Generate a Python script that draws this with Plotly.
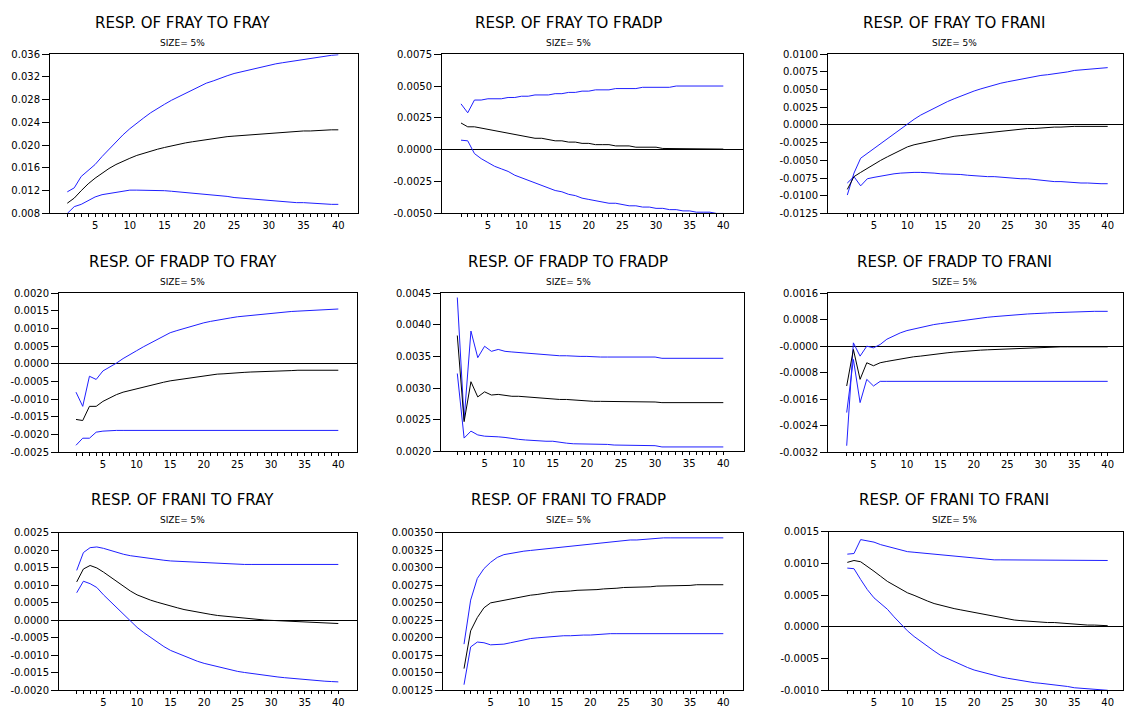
import plotly.graph_objects as go

periods = list(range(1, 41))

titles = [
    "RESP. OF FRAY TO FRAY", "RESP. OF FRAY TO FRADP", "RESP. OF FRAY TO FRANI",
    "RESP. OF FRADP TO FRAY", "RESP. OF FRADP TO FRADP", "RESP. OF FRADP TO FRANI",
    "RESP. OF FRANI TO FRAY", "RESP. OF FRANI TO FRADP", "RESP. OF FRANI TO FRANI",
]
subtitle = "SIZE= 5%"

ytick_labels = [
    ["0.008", "0.012", "0.016", "0.020", "0.024", "0.028", "0.032", "0.036"],
    ["-0.0050", "-0.0025", "0.0000", "0.0025", "0.0050", "0.0075"],
    ["-0.0125", "-0.0100", "-0.0075", "-0.0050", "-0.0025", "0.0000", "0.0025", "0.0050", "0.0075", "0.0100"],
    ["-0.0025", "-0.0020", "-0.0015", "-0.0010", "-0.0005", "0.0000", "0.0005", "0.0010", "0.0015", "0.0020"],
    ["0.0020", "0.0025", "0.0030", "0.0035", "0.0040", "0.0045"],
    ["-0.0032", "-0.0024", "-0.0016", "-0.0008", "-0.0000", "0.0008", "0.0016"],
    ["-0.0020", "-0.0015", "-0.0010", "-0.0005", "0.0000", "0.0005", "0.0010", "0.0015", "0.0020", "0.0025"],
    ["0.00125", "0.00150", "0.00175", "0.00200", "0.00225", "0.00250", "0.00275", "0.00300", "0.00325", "0.00350"],
    ["-0.0010", "-0.0005", "0.0000", "0.0005", "0.0010", "0.0015"],
]
xtick_labels = [str(p) if p % 5 == 0 else "" for p in periods]

# ---- FRAY to FRAY
fray_fray = [0.0098, 0.0107, 0.0120, 0.0132, 0.0142, 0.0151, 0.0159, 0.0166, 0.0172, 0.0177,
             0.0182, 0.0186, 0.0190, 0.0193, 0.0196, 0.0199, 0.0202, 0.0204, 0.0206, 0.0208,
             0.0210, 0.0212, 0.0213, 0.0215, 0.0216, 0.0217, 0.0218, 0.0219, 0.0220, 0.0221,
             0.0222, 0.0223, 0.0223, 0.0224, 0.0225, 0.0225, 0.0226, 0.0226, 0.0227, 0.0227]
fray_fray_hi = [0.0118, 0.0125, 0.0145, 0.0155, 0.0166, 0.0180, 0.0193, 0.0206, 0.0218, 0.0229,
                0.0239, 0.0248, 0.0257, 0.0265, 0.0272, 0.0279, 0.0285, 0.0291, 0.0298, 0.0304,
                0.0309, 0.0313, 0.0318, 0.0322, 0.0326, 0.0329, 0.0332, 0.0335, 0.0338, 0.0341,
                0.0343, 0.0345, 0.0347, 0.0349, 0.0351, 0.0353, 0.0355, 0.0356, 0.0358, 0.0359]
fray_fray_lo = [0.0080, 0.0092, 0.0096, 0.0103, 0.0109, 0.0113, 0.0115, 0.0118, 0.0119, 0.0121,
                0.0121, 0.0121, 0.0121, 0.0121, 0.0120, 0.0119, 0.0118, 0.0117, 0.0116, 0.0115,
                0.0114, 0.0112, 0.0111, 0.0110, 0.0108, 0.0107, 0.0106, 0.0105, 0.0103, 0.0102,
                0.0101, 0.0100, 0.0100, 0.0099, 0.0099, 0.0098, 0.0097, 0.0097, 0.0096, 0.0096]

# ---- FRAY to FRADP
fray_fradp = [0.0021, 0.0018, 0.0018, 0.0017, 0.0016, 0.0015, 0.0014, 0.0013, 0.0012, 0.0011,
              0.0010, 0.0009, 0.0009, 0.0008, 0.0007, 0.0007, 0.0006, 0.0006, 0.0005, 0.0005,
              0.0004, 0.0004, 0.0004, 0.0003, 0.0003, 0.0003, 0.0002, 0.0002, 0.0002, 0.0002,
              0.0001, 0.0001, 0.0001, 0.0001, 0.0001, 0.0001, 0.0001, 0.00005, 0.00005, 0.00005]
fray_fradp_hi = [0.0036, 0.0029, 0.0039, 0.0039, 0.0040, 0.0040, 0.0040, 0.0041, 0.0041, 0.0042,
                 0.0042, 0.0043, 0.0043, 0.0043, 0.0044, 0.0044, 0.0045, 0.0045, 0.0046, 0.0046,
                 0.0047, 0.0047, 0.0047, 0.0048, 0.0048, 0.0048, 0.0048, 0.0049, 0.0049, 0.0049,
                 0.0049, 0.0049, 0.0050, 0.0050, 0.0050, 0.0050, 0.0050, 0.0050, 0.0050, 0.0050]
fray_fradp_lo = [0.00075, 0.0007, -0.0003, -0.0007, -0.0010, -0.0013, -0.0015, -0.0017, -0.0020, -0.0022,
                 -0.0024, -0.0026, -0.0028, -0.0030, -0.0032, -0.0033, -0.0035, -0.0036, -0.0038, -0.0039,
                 -0.0040, -0.0041, -0.0042, -0.0042, -0.0043, -0.0044, -0.0044, -0.0045, -0.0045, -0.0046,
                 -0.0046, -0.0047, -0.0047, -0.0048, -0.0048, -0.0049, -0.0049, -0.0049, -0.0050, -0.0050]

# ---- FRAY to FRANI
fray_frani = [-0.0091, -0.0073, -0.0067, -0.0061, -0.0056, -0.0050, -0.0045, -0.0040, -0.0035, -0.0031,
              -0.0028, -0.0026, -0.0023, -0.0021, -0.0019, -0.0018, -0.0016, -0.0015, -0.0014, -0.0013,
              -0.0012, -0.0011, -0.0010, -0.0008, -0.0007, -0.0006, -0.0006, -0.0005, -0.0005, -0.0004,
              -0.0004, -0.0003, -0.0003, -0.0002, -0.0002, -0.0002, -0.0002, -0.0002, -0.0002, -0.0002]
fray_frani_hi = [-0.0099, -0.0068, -0.0047, -0.0040, -0.0033, -0.0026, -0.0019, -0.0012, -0.0005, 0.0002,
                 0.0008, 0.0014, 0.0019, 0.0024, 0.0029, 0.0033, 0.0037, 0.0041, 0.0045, 0.0048,
                 0.0051, 0.0054, 0.0056, 0.0059, 0.0061, 0.0063, 0.0065, 0.0067, 0.0068, 0.0070,
                 0.0071, 0.0072, 0.0074, 0.0075, 0.0077, 0.0078, 0.0079, 0.0079, 0.0080, 0.0081]
fray_frani_lo = [-0.0082, -0.0073, -0.0086, -0.0076, -0.0074, -0.0072, -0.0070, -0.0069, -0.0068, -0.0067,
                 -0.0067, -0.0067, -0.0067, -0.0068, -0.0069, -0.0069, -0.0070, -0.0070, -0.0071, -0.0072,
                 -0.0072, -0.0073, -0.0073, -0.0074, -0.0075, -0.0075, -0.0076, -0.0076, -0.0077, -0.0079,
                 -0.0079, -0.0080, -0.0080, -0.0081, -0.0081, -0.0082, -0.0082, -0.0083, -0.0083, -0.0083]

# ---- FRADP to FRAY
fradp_fray = [-0.00157, -0.0016, -0.0012, -0.0012, -0.00106, -0.00096, -0.00087, -0.0008, -0.00075, -0.0007,
              -0.00065, -0.0006, -0.00056, -0.00052, -0.00048, -0.00045, -0.00042, -0.00039, -0.00036, -0.00033,
              -0.00031, -0.00029, -0.00028, -0.00026, -0.00025, -0.00024, -0.00023, -0.00022, -0.00021, -0.0002,
              -0.0002, -0.00019, -0.00019, -0.00018, -0.00018, -0.00018, -0.00018, -0.00018, -0.00018, -0.00018]
fradp_fray_hi = [-0.0008, -0.0012, -0.00035, -0.00044, -0.0002, -0.0001, 0.00002, 0.00015, 0.00025, 0.00037,
                 0.00048, 0.00058, 0.00068, 0.00078, 0.00088, 0.00094, 0.001, 0.00106, 0.00111, 0.00116,
                 0.0012, 0.00124, 0.00127, 0.0013, 0.00133, 0.00135, 0.00138, 0.0014, 0.00142, 0.00144,
                 0.00145, 0.00146, 0.00148, 0.00149, 0.0015, 0.00151, 0.00152, 0.00153, 0.00154, 0.00155]
fradp_fray_lo = [-0.0023, -0.0021, -0.0021, -0.00193, -0.0019, -0.00188, -0.00188, -0.00188, -0.00188, -0.00188,
                 -0.00188, -0.00188, -0.00188, -0.00188, -0.00188, -0.00188, -0.00188, -0.00188, -0.00188, -0.00188,
                 -0.00188, -0.00188, -0.00188, -0.00188, -0.00188, -0.00188, -0.00188, -0.00188, -0.00188, -0.00188,
                 -0.00188, -0.00188, -0.00188, -0.00188, -0.00188, -0.00188, -0.00188, -0.00188, -0.00188, -0.00188]

# ---- FRADP to FRADP
fradp_fradp = [0.00383, 0.00247, 0.00310, 0.00286, 0.00294, 0.00289, 0.00290, 0.00288, 0.00287, 0.00287,
               0.00286, 0.00285, 0.00284, 0.00283, 0.00283, 0.00282, 0.00282, 0.00281, 0.00281, 0.00280,
               0.00279, 0.00279, 0.00279, 0.00279, 0.00278, 0.00278, 0.00278, 0.00278, 0.00278, 0.00278,
               0.00277, 0.00277, 0.00277, 0.00277, 0.00277, 0.00277, 0.00277, 0.00277, 0.00277, 0.00277]
fradp_fradp_hi = [0.00443, 0.00250, 0.00390, 0.00348, 0.00366, 0.00358, 0.00361, 0.00358, 0.00357, 0.00356,
                  0.00355, 0.00354, 0.00353, 0.00352, 0.00352, 0.00351, 0.00351, 0.00350, 0.00350, 0.00350,
                  0.00349, 0.00349, 0.00349, 0.00349, 0.00349, 0.00349, 0.00349, 0.00349, 0.00349, 0.00349,
                  0.00347, 0.00347, 0.00347, 0.00347, 0.00347, 0.00347, 0.00347, 0.00347, 0.00347, 0.00347]
fradp_fradp_lo = [0.00323, 0.00221, 0.00232, 0.00226, 0.00224, 0.00224, 0.00223, 0.00222, 0.00220, 0.00219,
                  0.00218, 0.00217, 0.00216, 0.00216, 0.00216, 0.00214, 0.00213, 0.00212, 0.00212, 0.00212,
                  0.00211, 0.00211, 0.00211, 0.00210, 0.00210, 0.00210, 0.00210, 0.00209, 0.00209, 0.00209,
                  0.00207, 0.00207, 0.00207, 0.00207, 0.00207, 0.00207, 0.00207, 0.00207, 0.00207, 0.00207]

# ---- FRADP to FRANI
fradp_frani = [-0.0012, -0.0001, -0.0010, -0.0005, -0.00059, -0.0005, -0.00046, -0.00042, -0.00038, -0.00035,
               -0.00032, -0.0003, -0.00027, -0.00025, -0.00022, -0.0002, -0.00018, -0.00016, -0.00015, -0.00013,
               -0.00012, -0.00011, -0.0001, -0.00009, -0.00008, -0.00007, -0.00006, -0.00005, -0.00004, -0.00003,
               -0.00002, -0.00002, -0.00002, -0.00002, -0.00002, -0.00002, -0.00002, -0.00002, -0.00002, -0.00002]
fradp_frani_hi = [-0.0030, 0.0001, -0.0003, 0.0000, -0.00005, 0.00005, 0.00021, 0.00031, 0.0004, 0.00047,
                  0.00052, 0.00057, 0.00061, 0.00065, 0.00068, 0.00071, 0.00074, 0.00077, 0.0008, 0.00083,
                  0.00085, 0.00087, 0.00089, 0.00091, 0.00093, 0.00094, 0.00095, 0.00097, 0.00098, 0.001,
                  0.001, 0.00101, 0.00102, 0.00103, 0.00104, 0.00105, 0.00105, 0.00105, 0.00105, 0.00105]
fradp_frani_lo = [-0.0020, -0.0004, -0.0017, -0.0010, -0.0012, -0.00106, -0.00106, -0.00106, -0.00106, -0.00106,
                  -0.00106, -0.00106, -0.00106, -0.00106, -0.00106, -0.00106, -0.00106, -0.00106, -0.00106, -0.00106,
                  -0.00106, -0.00106, -0.00106, -0.00106, -0.00106, -0.00106, -0.00106, -0.00106, -0.00106, -0.00106,
                  -0.00106, -0.00106, -0.00106, -0.00106, -0.00106, -0.00106, -0.00106, -0.00106, -0.00106, -0.00106]

# ---- FRANI to FRAY
frani_fray = [0.0011, 0.00147, 0.00157, 0.0015, 0.00138, 0.00124, 0.0011, 0.00096, 0.00084, 0.00073,
              0.00065, 0.00058, 0.00052, 0.00046, 0.0004, 0.00036, 0.00031, 0.00027, 0.00023, 0.00019,
              0.00017, 0.00014, 0.00012, 0.00009, 0.00007, 0.00005, 0.00004, 0.00003, 0.00001, 0.0,
              -0.00001, -0.00002, -0.00003, -0.00004, -0.00004, -0.00005, -0.00007, -0.00008, -0.00009, -0.00009]
frani_fray_hi = [0.00143, 0.00194, 0.00208, 0.0021, 0.00206, 0.002, 0.00194, 0.00189, 0.00185, 0.00182,
                 0.00179, 0.00177, 0.00174, 0.00172, 0.0017, 0.00169, 0.00167, 0.00166, 0.00165, 0.00164,
                 0.00163, 0.00163, 0.00162, 0.00162, 0.00161, 0.0016, 0.0016, 0.0016, 0.0016, 0.0016,
                 0.0016, 0.0016, 0.0016, 0.0016, 0.0016, 0.0016, 0.0016, 0.0016, 0.0016, 0.0016]
frani_fray_lo = [0.00079, 0.00112, 0.00105, 0.00094, 0.00073, 0.00054, 0.00035, 0.00017, -0.00002, -0.0002,
                 -0.00035, -0.00049, -0.00062, -0.00075, -0.00086, -0.00094, -0.00102, -0.0011, -0.00117, -0.00123,
                 -0.00128, -0.00133, -0.00138, -0.00142, -0.00146, -0.00149, -0.00152, -0.00155, -0.00158, -0.0016,
                 -0.00162, -0.00164, -0.00166, -0.00168, -0.0017, -0.00171, -0.00173, -0.00174, -0.00175, -0.00176]

# ---- FRANI to FRADP
frani_fradp = [0.00156, 0.0021, 0.00229, 0.00243, 0.0025, 0.00252, 0.00254, 0.00256, 0.00258, 0.0026,
               0.00261, 0.00262, 0.00264, 0.00265, 0.00266, 0.00266, 0.00267, 0.00268, 0.00268, 0.00269,
               0.00269, 0.0027, 0.0027, 0.00271, 0.00272, 0.00272, 0.00272, 0.00273, 0.00273, 0.00274,
               0.00274, 0.00274, 0.00275, 0.00275, 0.00275, 0.00276, 0.00276, 0.00276, 0.00276, 0.00276]
frani_fradp_hi = [0.00191, 0.00254, 0.00285, 0.00299, 0.00308, 0.00315, 0.00319, 0.00321, 0.00322, 0.00324,
                  0.00325, 0.00326, 0.00327, 0.00329, 0.0033, 0.00331, 0.00332, 0.00333, 0.00334, 0.00335,
                  0.00336, 0.00337, 0.00337, 0.00338, 0.00339, 0.0034, 0.0034, 0.00341, 0.00341, 0.00342,
                  0.00343, 0.00343, 0.00343, 0.00343, 0.00343, 0.00343, 0.00343, 0.00343, 0.00343, 0.00343]
frani_fradp_lo = [0.00133, 0.00187, 0.00194, 0.00193, 0.0019, 0.0019, 0.00191, 0.00193, 0.00195, 0.00198,
                  0.00199, 0.002, 0.00201, 0.00202, 0.00202, 0.00203, 0.00203, 0.00204, 0.00204, 0.00204,
                  0.00205, 0.00205, 0.00206, 0.00206, 0.00206, 0.00206, 0.00206, 0.00206, 0.00206, 0.00206,
                  0.00206, 0.00206, 0.00206, 0.00206, 0.00206, 0.00206, 0.00206, 0.00206, 0.00206, 0.00206]

# ---- FRANI to FRANI
frani_frani = [0.00102, 0.00105, 0.00103, 0.00096, 0.00088, 0.0008, 0.00072, 0.00066, 0.0006, 0.00054,
               0.0005, 0.00045, 0.00041, 0.00037, 0.00034, 0.00031, 0.00029, 0.00027, 0.00025, 0.00023,
               0.00021, 0.00019, 0.00017, 0.00014, 0.00012, 0.00011, 0.0001, 0.00009, 0.00009, 0.00008,
               0.00007, 0.00007, 0.00006, 0.00006, 0.00005, 0.00004, 0.00003, 0.00003, 0.00002, 0.00002]
frani_frani_hi = [0.00115, 0.00116, 0.00138, 0.00136, 0.00134, 0.0013, 0.00127, 0.00124, 0.00122, 0.00119,
                  0.00118, 0.00117, 0.00116, 0.00115, 0.00114, 0.00113, 0.00111, 0.0011, 0.00109, 0.00108,
                  0.00107, 0.00107, 0.00106, 0.00106, 0.00106, 0.00105, 0.00105, 0.00105, 0.00105, 0.00105,
                  0.00105, 0.00105, 0.00105, 0.00105, 0.00105, 0.00105, 0.00105, 0.00105, 0.00105, 0.00105]
frani_frani_lo = [0.00093, 0.00092, 0.00075, 0.00059, 0.00046, 0.00037, 0.00028, 0.00016, 0.00005, -0.00006,
                  -0.00015, -0.00023, -0.00031, -0.00038, -0.00045, -0.0005, -0.00055, -0.0006, -0.00064, -0.00068,
                  -0.00071, -0.00074, -0.00077, -0.00079, -0.00081, -0.00083, -0.00085, -0.00086, -0.00088, -0.00089,
                  -0.0009, -0.00092, -0.00093, -0.00094, -0.00096, -0.00097, -0.00098, -0.00098, -0.00099, -0.001]

responses = [fray_fray, fray_fradp, fray_frani, fradp_fray, fradp_fradp, fradp_frani,
             frani_fray, frani_fradp, frani_frani]
uppers = [fray_fray_hi, fray_fradp_hi, fray_frani_hi, fradp_fray_hi, fradp_fradp_hi, fradp_frani_hi,
          frani_fray_hi, frani_fradp_hi, frani_frani_hi]
lowers = [fray_fray_lo, fray_fradp_lo, fray_frani_lo, fradp_fray_lo, fradp_fradp_lo, fradp_frani_lo,
          frani_fray_lo, frani_fradp_lo, frani_frani_lo]

# ---------------- layout geometry (pixels) ----------------
W, H = 1125, 713
# plot box: left, right, top, bottom ; pixel position of period 1 and period 40
boxes = [
    (50, 358, 49, 211, 67.3, 338.3),
    (442, 743, 49, 211, 461.0, 723.3),
    (828, 1123, 49, 211, 847.3, 1107.7),
    (59, 357, 292, 454, 76.0, 338.3),
    (441, 744, 292, 453, 457.3, 723.3),
    (828, 1123, 292, 454, 846.7, 1107.7),
    (59, 357, 536, 696, 76.7, 338.3),
    (443, 743, 536, 696, 464.0, 723.3),
    (829, 1123, 535, 696, 847.3, 1107.7),
]
title_cx = [183, 568, 954]
title_y = [17, 260, 502]
sub_y = [38, 281, 523]

BLUE = "#1f1fff"
FONT = "DejaVu Sans, Verdana, sans-serif"

fig = go.Figure()
layout = dict(
    width=W, height=H, margin=dict(l=0, r=0, t=0, b=0),
    paper_bgcolor="white", plot_bgcolor="white", showlegend=False,
    font=dict(family=FONT, color="black", size=10),
)
annotations = []

for i in range(9):
    n = i + 1
    xa = "xaxis" if n == 1 else f"xaxis{n}"
    ya = "yaxis" if n == 1 else f"yaxis{n}"
    xr = "x" if n == 1 else f"x{n}"
    yr = "y" if n == 1 else f"y{n}"
    left, right, top, bottom, p1, p40 = boxes[i]
    per = (p40 - p1) / 39.0
    xmin = 1 - (p1 - left) / per
    xmax = 40 + (right - p40) / per
    yvals = [float(s) for s in ytick_labels[i]]

    for series, color in ((uppers[i], BLUE), (lowers[i], BLUE), (responses[i], "black")):
        fig.add_trace(go.Scatter(x=periods, y=series, mode="lines", xaxis=xr, yaxis=yr,
                                 line=dict(color=color, width=1), hoverinfo="skip"))

    layout[xa] = dict(
        domain=[left / W, right / W], anchor=yr, range=[xmin, xmax],
        tickmode="array", tickvals=periods, ticktext=xtick_labels,
        ticks="outside", ticklen=3, tickwidth=1, tickcolor="black",
        showline=True, linecolor="black", linewidth=1, mirror=True,
        showgrid=False, zeroline=False, tickfont=dict(size=10, family=FONT),
    )
    layout[ya] = dict(
        domain=[1 - bottom / H, 1 - top / H], anchor=xr, range=[yvals[0], yvals[-1]],
        tickmode="array", tickvals=yvals, ticktext=ytick_labels[i],
        ticks="outside", ticklen=7, tickwidth=1, tickcolor="black",
        showline=True, linecolor="black", linewidth=1, mirror=True,
        showgrid=False, zeroline=True, zerolinecolor="black", zerolinewidth=1,
        tickfont=dict(size=10, family=FONT),
    )
    col, row = i % 3, i // 3
    annotations.append(dict(text=titles[i], x=title_cx[col] / W, y=1 - title_y[row] / H,
                            xref="paper", yref="paper", showarrow=False,
                            xanchor="center", yanchor="middle",
                            font=dict(size=15, family=FONT, color="black")))
    annotations.append(dict(text=subtitle, x=title_cx[col] / W, y=1 - sub_y[row] / H,
                            xref="paper", yref="paper", showarrow=False,
                            xanchor="center", yanchor="middle",
                            font=dict(size=9, family=FONT, color="black")))

layout["annotations"] = annotations
fig.update_layout(**layout)
fig.write_html(
    "out.html",
    config={"displayModeBar": False, "staticPlot": True},
    post_script="document.body.style.margin='0px';document.body.style.overflow='hidden';",
)
